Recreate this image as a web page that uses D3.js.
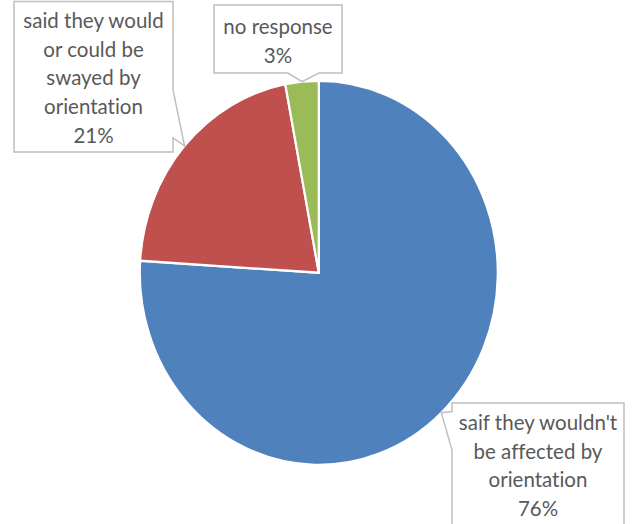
<!DOCTYPE html>
<html>
<head>
<meta charset="utf-8">
<script src="https://cdn.jsdelivr.net/npm/d3@7"></script>
<style>
  html, body { margin: 0; padding: 0; background: #ffffff; }
  svg { display: block; }
  text { font-family: Lato, "Open Sans", sans-serif; fill: #595959; font-variant-ligatures: none; font-feature-settings: "liga" 0, "clig" 0; }
</style>
</head>
<body>
<script>
// ---- data ----
const categories = ["saif they wouldn't be affected by orientation", "said they would or could be swayed by orientation", "no response"];
const values = [76, 21, 3];
const labelLines = [
  ["saif they wouldn't", "be affected by", "orientation", "76%"],
  ["said they would", "or could be", "swayed by", "orientation", "21%"],
  ["no response", "3%"]
];
const colors = ["#4F81BD", "#C0504D", "#9BBB59"];

// ---- layout ----
const W = 632, H = 524;
const cx = 318.8, cy = 272.8, rx = 179, ry = 192;

// callout boxes (x0,y0,x1,y1), side of wedge, wedge base span
const boxes = [
  { x0: 452, y0: 403, x1: 624, y1: 560, side: "left", b0: 411.5, b1: 450, textY: 423 },
  { x0: 14, y0: 1.5, x1: 173, y1: 152, side: "right", b0: 90, b1: 138, textY: 21 },
  { x0: 214, y0: 5, x1: 342, y1: 73, side: "bottom", b0: 288, b1: 319, textY: 27 }
];
const lineH = 28.6;

const svg = d3.select("body").append("svg").attr("width", W).attr("height", H);

const pie = d3.pie().sort(null).value(d => d)(values);
const arc = d3.arc().innerRadius(0).outerRadius(rx);

const g = svg.append("g").attr("transform", `translate(${cx},${cy}) scale(1,${ry / rx})`);
g.selectAll("path")
  .data(pie)
  .join("path")
  .attr("d", arc)
  .attr("fill", (d, i) => colors[i])
  .attr("stroke", "#ffffff")
  .attr("stroke-width", 2.2)
  .attr("stroke-linejoin", "miter");

// callouts
pie.forEach((d, i) => {
  const b = boxes[i];
  const mid = (d.startAngle + d.endAngle) / 2;
  const tx = cx + Math.sin(mid) * rx;
  const ty = cy - Math.cos(mid) * ry;
  let pts;
  if (b.side === "left") {
    pts = [[b.x0, b.y0], [b.x1, b.y0], [b.x1, b.y1], [b.x0, b.y1], [b.x0, b.b1], [tx, ty], [b.x0, b.b0]];
  } else if (b.side === "right") {
    pts = [[b.x0, b.y0], [b.x1, b.y0], [b.x1, b.b0], [tx, ty], [b.x1, b.b1], [b.x1, b.y1], [b.x0, b.y1]];
  } else {
    pts = [[b.x0, b.y0], [b.x1, b.y0], [b.x1, b.y1], [b.b1, b.y1], [tx, ty], [b.b0, b.y1], [b.x0, b.y1]];
  }
  svg.append("path")
    .attr("d", d3.line()(pts) + "Z")
    .attr("fill", "#ffffff")
    .attr("stroke", "#BFBFBF")
    .attr("stroke-width", 1.5);
  const t = svg.append("text")
    .attr("text-anchor", "middle")
    .attr("font-size", 20.5);
  labelLines[i].forEach((ln, k) => {
    t.append("tspan")
      .attr("x", (b.x0 + Math.min(b.x1, W)) / 2)
      .attr("y", b.textY + k * lineH)
      .attr("dy", "0.35em")
      .text(ln);
  });
});
</script>
</body>
</html>
